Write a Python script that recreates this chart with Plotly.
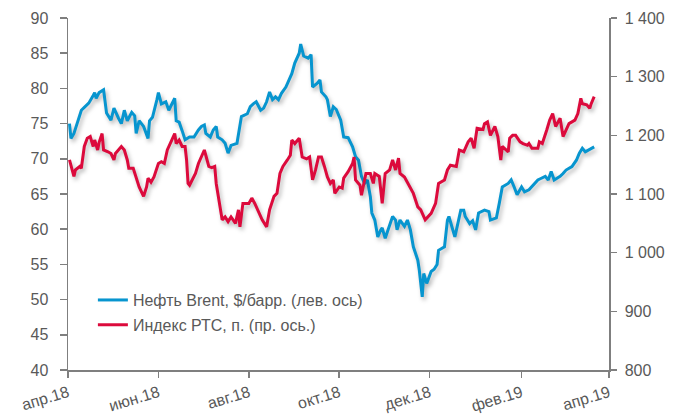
import plotly.graph_objects as go

# ---- data ----
brent_dates = ["2018-04-02","2018-04-03","2018-04-05","2018-04-08","2018-04-10","2018-04-12","2018-04-15","2018-04-18","2018-04-19","2018-04-20",
"2018-04-22","2018-04-25","2018-04-27","2018-04-30","2018-05-02","2018-05-05","2018-05-07","2018-05-09","2018-05-11","2018-05-14",
"2018-05-16","2018-05-17","2018-05-19","2018-05-22","2018-05-24","2018-05-25","2018-05-26","2018-05-28","2018-05-31","2018-06-01",
"2018-06-03","2018-06-06","2018-06-08","2018-06-11","2018-06-12","2018-06-13","2018-06-15","2018-06-17","2018-06-19","2018-06-22",
"2018-06-25","2018-06-28","2018-06-30","2018-07-02","2018-07-03","2018-07-06","2018-07-08","2018-07-10","2018-07-11","2018-07-14",
"2018-07-16","2018-07-18","2018-07-20","2018-07-24","2018-07-26","2018-07-27","2018-07-31","2018-08-02","2018-08-04","2018-08-06",
"2018-08-09","2018-08-11","2018-08-13","2018-08-15","2018-08-17","2018-08-19","2018-08-21","2018-08-23","2018-08-26","2018-08-28",
"2018-08-30","2018-09-01","2018-09-04","2018-09-05","2018-09-07","2018-09-10","2018-09-12","2018-09-13","2018-09-16","2018-09-18",
"2018-09-19","2018-09-22","2018-09-23","2018-09-25","2018-09-27","2018-09-29","2018-10-02","2018-10-04","2018-10-07","2018-10-10",
"2018-10-12","2018-10-14","2018-10-16","2018-10-18","2018-10-20","2018-10-22","2018-10-23","2018-10-25","2018-10-27","2018-10-29",
"2018-10-30","2018-11-01","2018-11-04","2018-11-06","2018-11-08","2018-11-09","2018-11-11","2018-11-14","2018-11-16","2018-11-18",
"2018-11-20","2018-11-23","2018-11-24","2018-11-26","2018-11-27","2018-11-29","2018-12-02","2018-12-04","2018-12-06","2018-12-07",
"2018-12-11","2018-12-13","2018-12-14","2018-12-18","2018-12-20","2018-12-22","2018-12-24","2018-12-25","2018-12-28","2018-12-30",
"2019-01-01","2019-01-03","2019-01-07","2019-01-10","2019-01-11","2019-01-15","2019-01-17","2019-01-19","2019-01-23","2019-01-25",
"2019-01-27","2019-01-29","2019-02-01","2019-02-03","2019-02-06","2019-02-09","2019-02-12","2019-02-14","2019-02-17","2019-02-19",
"2019-02-21","2019-02-23","2019-02-27","2019-03-01","2019-03-03","2019-03-07","2019-03-10","2019-03-12","2019-03-14","2019-03-16",
"2019-03-18","2019-03-20","2019-03-22"]

brent_values = [75.0,72.9,73.6,75.5,76.9,77.3,77.9,79.0,79.4,78.6,
79.4,79.8,76.5,75.5,77.2,75.8,75.0,76.9,75.4,76.6,
76.1,73.6,75.4,74.6,73.4,72.9,75.4,75.9,78.4,79.4,
77.8,78.1,76.9,78.1,78.6,75.4,75.2,74.0,72.7,73.1,
73.1,74.1,74.6,74.8,73.6,73.1,74.1,74.6,73.1,72.7,
72.2,70.8,71.9,72.2,74.6,76.0,76.4,77.4,77.8,78.1,
76.9,77.2,78.1,79.5,78.4,78.8,78.4,79.3,80.2,81.2,
82.1,83.6,85.0,86.3,84.6,84.3,84.8,80.2,80.7,81.2,
79.5,78.8,78.4,76.0,77.4,77.0,75.5,73.1,73.0,71.7,
70.3,69.8,67.5,66.5,67.0,64.6,62.3,61.3,58.9,59.9,
60.2,58.7,60.4,61.8,61.3,59.9,61.3,60.4,61.3,59.9,
57.5,55.6,54.2,50.4,53.7,52.3,54.0,54.3,55.0,57.0,
57.5,61.3,61.8,58.9,60.8,62.7,62.7,61.8,60.8,61.2,
59.9,62.3,62.7,62.5,61.3,61.6,63.7,66.0,66.5,67.0,
66.0,64.9,66.0,65.3,65.6,66.3,67.0,67.2,67.5,67.0,
68.2,67.0,67.5,67.9,68.4,68.9,69.8,70.8,71.5,71.0,
71.2,71.5,71.7]

rts_dates = ["2018-04-02","2018-04-03","2018-04-05","2018-04-06","2018-04-09","2018-04-10","2018-04-12","2018-04-14","2018-04-16","2018-04-18",
"2018-04-19","2018-04-21","2018-04-22","2018-04-24","2018-04-25","2018-04-28","2018-04-30","2018-05-02","2018-05-03","2018-05-07",
"2018-05-09","2018-05-11","2018-05-12","2018-05-15","2018-05-17","2018-05-19","2018-05-22","2018-05-24","2018-05-25","2018-05-27",
"2018-05-29","2018-06-01","2018-06-03","2018-06-05","2018-06-07","2018-06-10","2018-06-12","2018-06-13","2018-06-15","2018-06-17",
"2018-06-19","2018-06-20","2018-06-21","2018-06-22","2018-06-23","2018-06-26","2018-06-28","2018-06-30","2018-07-02","2018-07-05",
"2018-07-07","2018-07-09","2018-07-10","2018-07-14","2018-07-16","2018-07-18","2018-07-20","2018-07-23","2018-07-25","2018-07-26",
"2018-07-28","2018-08-01","2018-08-03","2018-08-05","2018-08-07","2018-08-10","2018-08-13","2018-08-15","2018-08-18","2018-08-20",
"2018-08-22","2018-08-24","2018-08-27","2018-08-29","2018-08-30","2018-09-01","2018-09-04","2018-09-05","2018-09-06","2018-09-09",
"2018-09-11","2018-09-13","2018-09-15","2018-09-17","2018-09-19","2018-09-21","2018-09-23","2018-09-25","2018-09-27","2018-09-28",
"2018-10-01","2018-10-03","2018-10-04","2018-10-07","2018-10-10","2018-10-11","2018-10-12","2018-10-15","2018-10-16","2018-10-19",
"2018-10-22","2018-10-24","2018-10-25","2018-10-28","2018-10-30","2018-11-01","2018-11-04","2018-11-06","2018-11-08","2018-11-10",
"2018-11-11","2018-11-14","2018-11-17","2018-11-20","2018-11-23","2018-11-25","2018-11-28","2018-12-02","2018-12-05","2018-12-07",
"2018-12-11","2018-12-13","2018-12-15","2018-12-19","2018-12-21","2018-12-24","2018-12-27","2018-12-29","2018-12-31","2019-01-02",
"2019-01-06","2019-01-07","2019-01-09","2019-01-11","2019-01-14","2019-01-16","2019-01-18","2019-01-19","2019-01-23","2019-01-24",
"2019-01-26","2019-01-28","2019-01-31","2019-02-02","2019-02-05","2019-02-06","2019-02-08","2019-02-12","2019-02-13","2019-02-15",
"2019-02-18","2019-02-20","2019-02-22","2019-02-24","2019-02-27","2019-03-01","2019-03-03","2019-03-05","2019-03-09","2019-03-11",
"2019-03-13","2019-03-14","2019-03-17","2019-03-19","2019-03-20","2019-03-22"]

rts_values = [1158,1147,1130,1141,1147,1144,1181,1195,1198,1181,
1192,1175,1188,1203,1175,1172,1169,1158,1169,1181,
1175,1158,1144,1144,1127,1112,1096,1112,1127,1120,
1129,1152,1155,1152,1175,1192,1203,1186,1192,1181,
1181,1158,1118,1115,1120,1135,1152,1163,1175,1147,
1145,1147,1118,1056,1061,1053,1061,1050,1073,1044,
1084,1084,1093,1084,1073,1056,1044,1073,1096,1101,
1135,1147,1158,1166,1192,1186,1195,1181,1163,1160,
1163,1124,1141,1163,1163,1147,1129,1118,1124,1101,
1112,1110,1127,1138,1152,1163,1124,1115,1098,1135,
1135,1118,1135,1130,1084,1135,1141,1158,1141,1161,
1135,1129,1115,1101,1078,1073,1056,1067,1084,1118,
1124,1141,1149,1147,1175,1172,1189,1195,1178,1212,
1210,1220,1223,1200,1215,1198,1158,1181,1172,1195,
1200,1200,1189,1186,1183,1186,1178,1178,1189,1186,
1209,1226,1237,1215,1229,1198,1209,1220,1226,1237,
1263,1254,1252,1246,1254,1266]

x_tick_dates = ["2018-04-01","2018-06-01","2018-08-01","2018-10-01","2018-12-01","2019-02-01","2019-04-01"]
x_tick_labels = ["апр.18","июн.18","авг.18","окт.18","дек.18","фев.19","апр.19"]
left_ticks = [40, 45, 50, 55, 60, 65, 70, 75, 80, 85, 90]
right_ticks = [800, 900, 1000, 1100, 1200, 1300, 1400]

series_names = ["Нефть Brent, $/барр. (лев. ось)", "Индекс РТС, п. (пр. ось.)"]

# ---- styling ----
BLUE = "#0795CF"
RED = "#DC0A3C"
AXIS = "#7F7F7F"
TXT = "#595959"
FONT = "Liberation Sans, Arial, sans-serif"

fig = go.Figure()
fig.add_trace(go.Scatter(x=brent_dates, y=brent_values, mode="lines", name=series_names[0],
                         line=dict(color=BLUE, width=3), legendgroup="a", yaxis="y"))
fig.add_trace(go.Scatter(x=rts_dates, y=rts_values, mode="lines", name=series_names[1],
                         line=dict(color=RED, width=3), legendgroup="b", yaxis="y2"))

axis_common = dict(showline=True, linecolor=AXIS, linewidth=1.5, ticks="outside",
                   tickcolor=AXIS, tickwidth=1.5, showgrid=False, zeroline=False,
                   automargin=False,
                   tickfont=dict(family=FONT, size=16, color=TXT))

fig.update_layout(
    width=688, height=417,
    margin=dict(l=68, r=79, t=18, b=47),
    paper_bgcolor="white", plot_bgcolor="white",
    separators=", ",
    showlegend=True,
    legend=dict(x=0.046, y=0.247, xanchor="left", yanchor="top",
                bgcolor="rgba(0,0,0,0)", font=dict(family=FONT, size=16, color=TXT),
                traceorder="grouped", tracegroupgap=1),
    xaxis=dict(type="date", range=["2018-04-01", "2019-04-01"],
               tickmode="array", tickvals=x_tick_dates, ticktext=x_tick_labels,
               tickangle=-17, ticklen=6, **axis_common),
    yaxis=dict(range=[40, 90], tickmode="array", tickvals=left_ticks, ticklen=7,
               ticklabelstandoff=8, **axis_common),
    yaxis2=dict(range=[800, 1400], tickmode="array", tickvals=right_ticks, tickformat=",d",
                overlaying="y", side="right", ticklen=6, ticklabelstandoff=5, **axis_common),
)

post = """
document.body.style.margin='0';
document.body.style.overflow='hidden';
function addShadow(){
  document.querySelectorAll('.scatterlayer .trace path.js-line').forEach(function(p){
    p.style.filter='drop-shadow(2px 3px 2px rgba(0,0,0,0.28))';
  });
}
addShadow();
setTimeout(addShadow, 50);
"""

fig.write_html("out.html", config={"displayModeBar": False, "staticPlot": True},
               post_script=post)
